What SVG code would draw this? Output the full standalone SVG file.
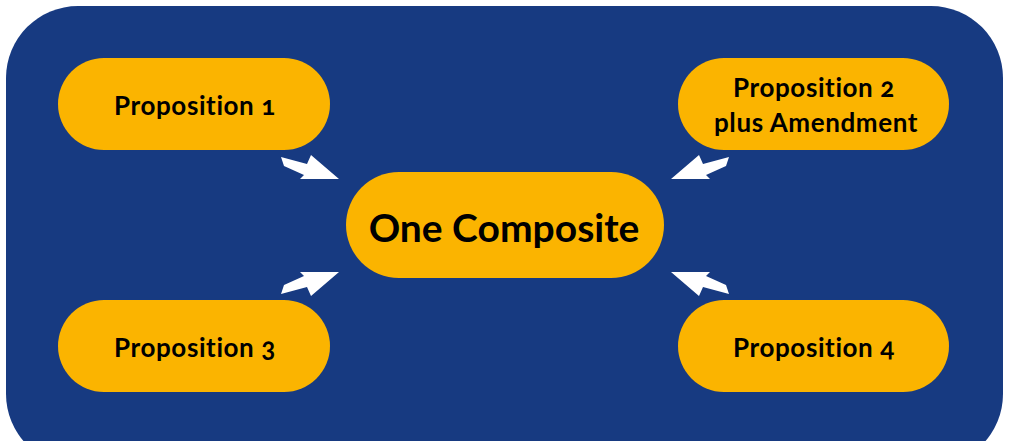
<svg xmlns="http://www.w3.org/2000/svg" width="1009" height="441" viewBox="0 0 1009 441">
  <style>
    .panel { fill: #173a81; }
    .pill { fill: #fbb400; }
    .label { font-family: Lato, "Open Sans", "Liberation Sans", sans-serif; font-weight: bold; fill: #000; text-anchor: middle; font-variant-numeric: oldstyle-nums; }
    .small { font-size: 26px; letter-spacing: 0.6px; }
    .big { font-size: 39px; }
    .arrow { fill: #ffffff; }
  </style>
  <defs>
    <!-- block arrow pointing down-right toward the centre pill -->
    <polygon id="blockArrow" points="281,157 307,164 311,155 339,179 300,179 304,175 284,166"/>
  </defs>

  <!-- outer panel -->
  <rect class="panel" x="6" y="6" width="997" height="460" rx="72" ry="72"/>

  <!-- connectors -->
  <g id="connectors" class="arrow">
    <use href="#blockArrow"/>
    <use href="#blockArrow" transform="translate(0,451) scale(1,-1)"/>
    <use href="#blockArrow" transform="translate(1010,0) scale(-1,1)"/>
    <use href="#blockArrow" transform="translate(1010,451) scale(-1,-1)"/>
  </g>

  <g id="proposition1">
    <rect class="pill" x="58" y="58" width="272" height="92" rx="46"/>
    <text class="label small" x="195" y="115">Proposition 1</text>
  </g>

  <g id="proposition2">
    <rect class="pill" x="678" y="58" width="271" height="92" rx="46"/>
    <text class="label small" x="814" y="97">Proposition 2</text>
    <text class="label small" x="816" y="132">plus Amendment</text>
  </g>

  <g id="proposition3">
    <rect class="pill" x="58" y="300" width="272" height="92" rx="46"/>
    <text class="label small" x="195" y="357">Proposition 3</text>
  </g>

  <g id="proposition4">
    <rect class="pill" x="678" y="300" width="271" height="92" rx="46"/>
    <text class="label small" x="814" y="357">Proposition 4</text>
  </g>

  <g id="composite">
    <rect class="pill" x="346" y="172" width="318" height="106" rx="53"/>
    <text class="label big" x="504" y="242">One Composite</text>
  </g>
</svg>
